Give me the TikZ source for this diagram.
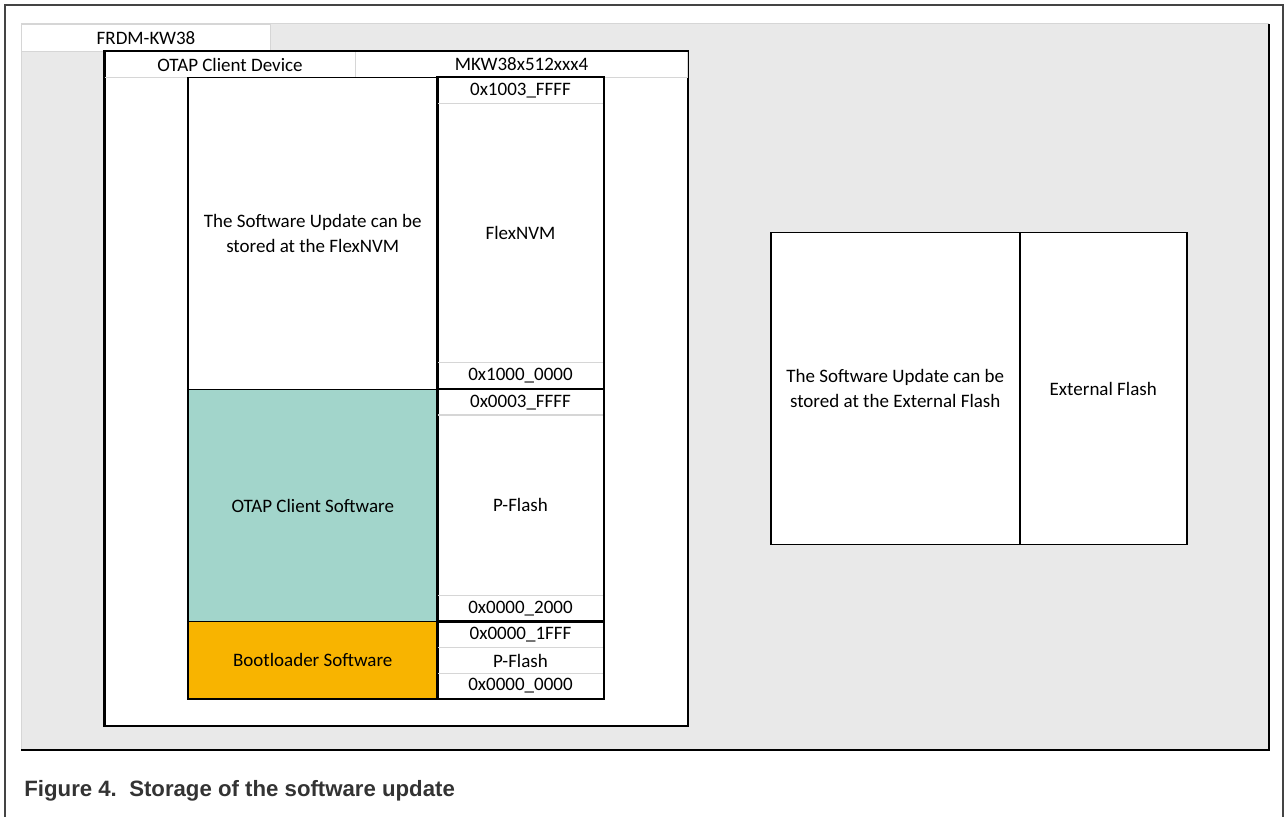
\documentclass[tikz,border=0pt]{standalone}
\usepackage{fontspec}
\setmainfont{Carlito}
\newfontfamily\capfont{Liberation Sans}
\usepackage{xcolor}
\usepackage{tikz}
\usetikzlibrary{positioning}
\definecolor{framex}{HTML}{444444}
\definecolor{bgx}{HTML}{E9E9E9}
\definecolor{gridx}{HTML}{D6D6D6}
\definecolor{tealx}{HTML}{A2D5CB}
\definecolor{goldx}{HTML}{F8B400}
\definecolor{capx}{HTML}{333333}
\tikzset{
  txt/.style={font=\fontsize{9.5}{12.5}\selectfont,align=center,text=black},
  cel/.style={txt,draw=gridx,line width=0.5pt,anchor=north west,inner sep=0pt},
  blk/.style={txt,draw=black,line width=0.75pt,anchor=north west,inner sep=0pt,minimum width=125pt},
  adr/.style={cel,minimum width=83pt,minimum height=13pt},
  edge/.style={draw=black,line width=0.75pt}
}

\begin{document}
\begin{tikzpicture}[x=0.5pt,y=-0.5pt]
\useasboundingbox (0,0) rectangle (1285,817);
% page frame and grey sheet
\draw[framex,line width=1pt] (5,817) -- (5,5) -- (1283,5) -- (1283,817);
\fill[bgx] (21,24) rectangle (1269,750);
\draw[gridx,line width=0.5pt] (21,750) -- (21,24) -- (1269,24);
\draw[black,line width=0.8pt] (21,750) -- (1269,750) -- (1269,24);
\node[cel,fill=white,minimum width=124.5pt,minimum height=13.5pt] (board) at (21,24) {FRDM-KW38};

% client device
\node[blk,fill=white,minimum width=291.5pt,minimum height=337pt] (dev) at (104,51) {};
\node[cel,minimum width=125.5pt,minimum height=13pt] (devname) at (104,51) {OTAP Client Device};
\node[cel,minimum width=166pt,minimum height=13pt] (mcu) at (355,51) {MKW38x512xxx4};
\draw[edge] (dev.north west) rectangle (dev.south east);

% memory map, left column
\node[blk,fill=white,minimum height=156pt] (nvm) at (187,77) {The Software Update can be\\stored at the FlexNVM};
\node[blk,fill=tealx,minimum height=116pt] (app) at (187,389) {OTAP Client Software};
\node[blk,fill=goldx,minimum height=38.5pt] (boot) at (187,621) {Bootloader Software};

% memory map, address column
\node[adr] (a1) at (437,77) {0x1003\_FFFF};
\node[adr,minimum height=129.5pt] (nvmname) at (437,103) {FlexNVM};
\node[adr] (a2) at (437,362) {0x1000\_0000};
\node[adr] (a3) at (437,389) {0x0003\_FFFF};
\node[adr,minimum height=90.5pt] (pflash) at (437,414) {P-Flash};
\node[adr] (a4) at (437,595) {0x0000\_2000};
\node[adr] (a5) at (437,621) {0x0000\_1FFF};
\node[adr] (bootname) at (437,647) {P-Flash};
\node[adr,minimum height=12.5pt] (a6) at (437,673) {0x0000\_0000};
\draw[edge] (a1.north west) rectangle (a2.south east);
\draw[edge] (a3.north west) rectangle (a4.south east);
\draw[edge] (a5.north west) rectangle (a6.south east);

% external memory
\node[blk,fill=white,minimum width=124.5pt,minimum height=156pt] (ext) at (770,232) {The Software Update can be\\stored at the External Flash};
\node[blk,fill=white,minimum width=83.5pt,minimum height=156pt] (extname) at (1019,232) {External Flash};

\node[anchor=west,inner sep=0pt,text=capx,font=\capfont\bfseries\fontsize{11.1}{13}\selectfont] (cap) at (24,791) {Figure 4.\ \ Storage of the software update};
\end{tikzpicture}
\end{document}
